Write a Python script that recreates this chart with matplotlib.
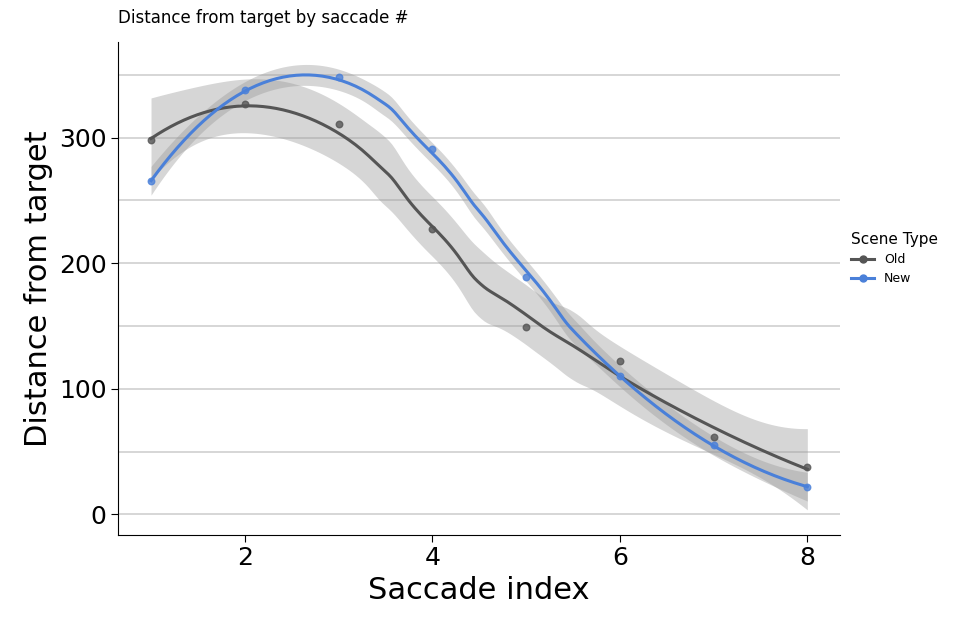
import numpy as np
import matplotlib.pyplot as plt
from matplotlib.lines import Line2D

saccade = np.array([1, 2, 3, 4, 5, 6, 7, 8])
old_dist = np.array([298, 327, 311, 227, 149, 122, 62, 38])
new_dist = np.array([265, 338, 348, 291, 189, 110, 55, 22])
y_ticks = [0, 100, 200, 300]
x_ticks = [2, 4, 6, 8]


def loess(x, y, xs, span=0.75):
    # local quadratic fit with tricube weights, like ggplot's geom_smooth
    n = len(x)
    q = int(np.floor(span * n))
    def hat_row(x0):
        d = np.abs(x - x0)
        h = np.sort(d)[q - 1]
        w = np.clip(1 - (d / h) ** 3, 0, None) ** 3
        X = np.vstack([np.ones(n), x - x0, (x - x0) ** 2]).T
        W = np.diag(w)
        return np.linalg.pinv(X.T @ W @ X) @ X.T @ W
    L = np.array([hat_row(x0)[0] for x0 in x])
    res = y - L @ y
    df = n - np.trace(2 * L - L @ L.T)
    sigma = np.sqrt(np.sum(res ** 2) / df)
    rows = np.array([hat_row(x0)[0] for x0 in xs])
    fit = rows @ y
    se = sigma * np.sqrt(np.sum(rows ** 2, axis=1))
    return fit, se


xs = np.linspace(1, 8, 200)
fig = plt.figure(figsize=(9.69, 6.18), dpi=100)
ax = fig.add_axes([0.122, 0.135, 0.745, 0.797])

series = [(old_dist, '#555555', 'Old'), (new_dist, '#4a80d9', 'New')]
for y, col, lab in series:
    fit, se = loess(saccade, y, xs)
    ax.fill_between(xs, fit - 3 * se, fit + 3 * se, color='#999999', alpha=0.4, lw=0, zorder=2)
for y, col, lab in series:
    fit, se = loess(saccade, y, xs)
    ax.plot(xs, fit, color=col, lw=2.2, zorder=3)
    ax.scatter(saccade, y, color=col, s=22, alpha=0.8, zorder=4)

for v in range(0, 400, 50):
    ax.axhline(v, color='#d0d0d0', lw=1.2, zorder=1)

ax.set_xlim(0.65, 8.35)
ax.set_ylim(-16, 376)
ax.set_xticks(x_ticks)
ax.set_yticks(y_ticks)
ax.tick_params(labelsize=18, length=5)
for s in ['top', 'right']:
    ax.spines[s].set_visible(False)
ax.set_xlabel('Saccade index', fontsize=22)
ax.set_ylabel('Distance from target', fontsize=22)
ax.set_title('Distance from target by saccade #', fontsize=12, loc='left', x=-0.0, pad=14)

handles = [Line2D([], [], color='#555555', lw=2.2, marker='o', ms=5),
           Line2D([], [], color='#4a80d9', lw=2.2, marker='o', ms=5)]
leg = ax.legend(handles, ['Old', 'New'], title='Scene Type', loc='center left',
                bbox_to_anchor=(1.0, 0.56), frameon=False, fontsize=9,
                title_fontsize=11, handlelength=1.8)
leg._legend_box.align = 'left'

fig.savefig('out.png', dpi=100)
